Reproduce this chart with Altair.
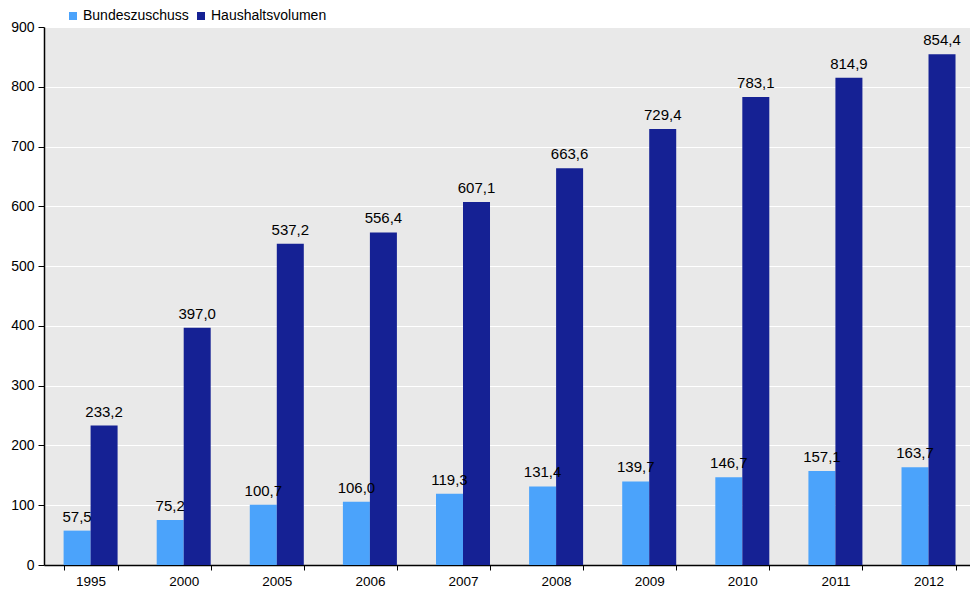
import altair as alt
import pandas as pd

years = ["1995", "2000", "2005", "2006", "2007", "2008", "2009", "2010", "2011", "2012"]
bundeszuschuss = [57.5, 75.2, 100.7, 106.0, 119.3, 131.4, 139.7, 146.7, 157.1, 163.7]
haushaltsvolumen = [233.2, 397.0, 537.2, 556.4, 607.1, 663.6, 729.4, 783.1, 814.9, 854.4]
series = ["Bundeszuschuss", "Haushaltsvolumen"]
colors = ["#4ba3fb", "#152194"]
y_ticks = [0, 100, 200, 300, 400, 500, 600, 700, 800, 900]

rows = []
for i, yr in enumerate(years):
    rows.append({"Jahr": yr, "Reihe": series[0], "Wert": bundeszuschuss[i]})
    rows.append({"Jahr": yr, "Reihe": series[1], "Wert": haushaltsvolumen[i]})
df = pd.DataFrame(rows)

FONT = "Liberation Sans"

x_enc = alt.X(
    "Jahr:N",
    sort=years,
    scale=alt.Scale(paddingInner=0.42, paddingOuter=0.183, align=0.575),
    axis=alt.Axis(
        title=None, labelAngle=0, tickBand="extent", domainColor="black",
        domainWidth=1.5, tickColor="black", tickSize=5, labelFontSize=13.5,
        labelFont=FONT, labelColor="black", labelPadding=4, grid=False,
    ),
)
xo_enc = alt.XOffset("Reihe:N", sort=series, scale=alt.Scale(paddingInner=0, paddingOuter=0))
y_enc = alt.Y(
    "Wert:Q",
    scale=alt.Scale(domain=[0, 900], nice=False),
    axis=alt.Axis(
        title=None, values=y_ticks, domainColor="black", domainWidth=1.5,
        tickColor="black", tickSize=6, labelFontSize=14, labelFont=FONT,
        labelColor="black", gridColor="white", gridWidth=1, labelPadding=4,
    ),
)

bars = alt.Chart(df).mark_bar().encode(
    x=x_enc,
    xOffset=xo_enc,
    y=y_enc,
    color=alt.Color(
        "Reihe:N",
        sort=series,
        scale=alt.Scale(domain=series, range=colors),
        legend=alt.Legend(
            title=None, orient="none", legendX=22, legendY=-18, direction="horizontal",
            symbolType="square", symbolSize=64, symbolStrokeWidth=0,
            labelFont=FONT, labelFontSize=14, labelColor="black",
            columnPadding=5, labelOffset=3,
        ),
    ),
)

labels = alt.Chart(df).transform_calculate(
    txt="replace(format(datum.Wert, '.1f'), '.', ',')"
).mark_text(baseline="alphabetic", dy=-9, font=FONT, fontSize=15, color="black").encode(
    x=alt.X("Jahr:N", sort=years),
    xOffset=alt.XOffset("Reihe:N", sort=series),
    y=alt.Y("Wert:Q"),
    text="txt:N",
)

chart = alt.layer(bars, labels).properties(
    width=926, height=538,
    autosize=alt.AutoSizeParams(type="none"),
    padding={"left": 36, "top": 19, "right": 0, "bottom": 28},
).configure(background="white").configure_view(fill="#e9e9e9", stroke=None)

chart.save("out.html", embed_options={"renderer": "svg", "actions": False})
